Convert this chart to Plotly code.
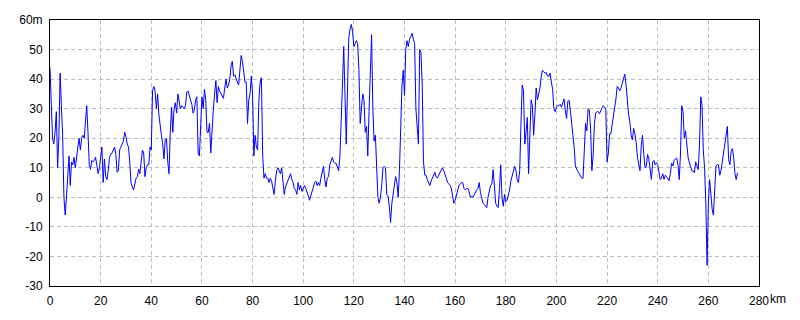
import numpy as np
import plotly.graph_objects as go

STEP_KM = 0.5

elev_000_086 = [
    44, 28, 20, 18, 22, 29, 10, 20, 42, 31,
    21, 0, -6, 0, 6, 14, 4, 12, 11, 13.5,
    10, 14.5, 17, 20, 16, 20, 21, 20, 27, 31,
    22, 11, 9.5, 12.5, 12, 12.5, 13.5, 10, 8, 10,
    13, 17, 5, 13, 7, 6, 9, 13.5, 14.5, 15,
    16, 17, 14.5, 8.5, 9, 16, 17, 18, 19, 22,
    20.5, 18, 17, 12, 5, 3.5, 2.5, 4.5, 6.5, 7,
    9.5, 8, 13, 16, 15, 7, 10, 11, 11, 17,
    16, 36, 37.5, 36, 30, 35, 28, 23, 21, 18,
    13, 19.5, 20, 12, 8, 22, 30.5, 22, 30, 32,
    28.5, 35, 33, 30, 31, 30.5, 30, 31, 35.5, 36,
    34, 33, 31.5, 28.5, 29.5, 33, 34, 15, 14, 27,
    34, 30, 36.5, 33, 22, 22, 25, 15, 24, 29.5,
    35, 39.5, 32, 37.5, 36, 35, 34.5, 33.5, 37, 40,
    37, 38, 40, 44.5, 46, 41, 41.5, 40, 39, 38,
    44, 48, 46, 43, 39, 39, 25, 33, 35, 41,
    35, 14, 21, 17, 16, 33, 39, 40.5, 14, 6.5,
    8, 6.5,
]

elev_086_170 = [
    6.5, 5, 6.5, 5.5, 3, 1, 5.5, 9, 10, 9,
    8, 10, 5.5, 1, 3.5, 4.5, 6, 7, 8, 6,
    5, 3, 2.5, 1, 5, 2.5, 4, 2, 3, 4,
    3, 2, 0.5, -1, 0.5, 2, 3, 5, 5.5, 4,
    5, 4, 6.5, 9, 10.5, 6, 3.5, 6.5, 7, 11,
    12.5, 13.5, 12, 11.5, 11.5, 10.5, 9, 14, 24, 38,
    51, 34, 18, 37, 54, 57, 58.5, 56, 51, 52,
    53, 52, 43, 25, 31, 35, 33, 22, 24, 14,
    29, 44.5, 55, 30, 19, 21, 8, 0, -2, 0,
    4, 10, 10.5, 10, 1, 0.5, -3, -8.5, -2, 1.5,
    3, 7, 5, 0, 9, 22, 38, 43, 34.5, 50,
    53, 51, 53.5, 54.5, 55.5, 53.5, 52, 30, 25, 18,
    50, 49, 38, 12, 7.5, 7.5, 6, 5, 4, 5.5,
    6.5, 8, 8.5, 7, 6.5, 7.5, 8.5, 9.5, 10, 9,
    8, 6.5, 5, 4.5, 4, 3, 1, -2, -1, 1,
    3, 4, 4.5, 5, 5, 3, 2.5, 3, 3, 2,
    0, 0.5, 0, 1, 2, 2.5, 3, 5,
]

elev_170_205 = [
    1.5, 0, -2, -2.5, -3, -3.5, 0, 2, 4, 4.5,
    9.4, 4, -2, -3, -3.5, 3, 11, 0, -3, 1,
    -1.5, -1, 0.5, 2.5, 5.5, 7.5, 9, 10.5, 9, 6,
    5, 9, 25, 38, 36, 18, 22, 27, 8, 23,
    33, 31, 21, 28, 37, 33, 35, 37, 41, 43,
    42.5, 42, 42.2, 41, 41, 42, 39, 36.5, 30, 29,
    30.5, 31, 31, 31.5, 30.5, 32.5, 33.3, 29.5, 26.7, 32.5,
]

elev_205_240 = [
    32.8, 29.4, 26, 21, 17, 10.6, 9.5, 8.5, 8, 7.2,
    6.5, 6.5, 15, 25, 22.5, 30, 29.5, 23, 9, 14,
    25, 28.5, 29, 29, 28.3, 29.5, 30.3, 31, 30.6, 30,
    12, 15, 21.5, 21.5, 24.5, 27, 30.5, 33.3, 37.5, 37,
    36.1, 37, 38.5, 40.5, 41.7, 38, 31.5, 28, 25.5, 21,
    19.5, 23.3, 21.5, 18.5, 13.5, 10.6, 9, 17.5, 21, 14.5,
    10, 10.6, 14.5, 13, 8.5, 6.1, 12, 12.5, 11, 11.7,
]

elev_240_272 = [
    11, 8.3, 6, 6.5, 8, 6.1, 7.5, 7, 6, 5.6,
    8, 11.5, 10.6, 12.5, 13, 13.3, 11, 6, 15, 31,
    29, 20, 22.5, 17.5, 13.5, 11.7, 10, 9, 9, 8.3,
    12, 11, 9.4, 17.5, 34, 31, 16.1, 10, -2, -23,
    -2, 6, -1, -4, -6, 3, 10.6, 11.1, 11, 7.5,
    9, 12, 15, 18, 22, 24, 12.8, 11, 15.5, 16.5,
    13.5, 8, 6, 8.3,
]

elev_m = elev_000_086 + elev_086_170 + elev_170_205 + elev_205_240 + elev_240_272
dist_km = np.arange(len(elev_m)) * STEP_KM

x_tick_vals = [0, 20, 40, 60, 80, 100, 120, 140, 160, 180, 200, 220, 240, 260, 280]
x_tick_text = ["0", "20", "40", "60", "80", "100", "120", "140", "160", "180",
               "200", "220", "240", "260", "280"]
y_tick_vals = [-30, -20, -10, 0, 10, 20, 30, 40, 50, 60]
y_tick_text = ["-30", "-20", "-10", "0", "10", "20", "30", "40", "50", "60m"]

FONT = "Liberation Sans Narrow, Liberation Sans, Arial, sans-serif"

fig = go.Figure()
fig.add_trace(go.Scatter(
    x=dist_km, y=elev_m, mode="lines",
    line=dict(color="#0000ff", width=1),
    hoverinfo="skip", showlegend=False,
))

axis_common = dict(
    showline=True, linecolor="black", linewidth=1, mirror=True,
    showgrid=True, gridcolor="#bdbdbd", gridwidth=1, griddash="4px,3px",
    zeroline=False, ticks="", tickfont=dict(family=FONT, size=12, color="black"),
)

fig.update_xaxes(range=[0, 280], tickmode="array", tickvals=x_tick_vals,
                 ticktext=x_tick_text, ticklabelstandoff=4, **axis_common)
fig.update_yaxes(range=[-30, 60], tickmode="array", tickvals=y_tick_vals,
                 ticktext=y_tick_text, ticklabelstandoff=4, **axis_common)

fig.add_annotation(
    text="km", xref="paper", yref="paper", x=1, y=0,
    xanchor="left", yanchor="top", xshift=9, yshift=-4,
    showarrow=False, font=dict(family=FONT, size=12, color="black"),
)

fig.update_layout(
    width=800, height=320,
    margin=dict(l=50, r=41, t=20, b=30),
    paper_bgcolor="white", plot_bgcolor="white",
)

fig.write_html("out.html")
